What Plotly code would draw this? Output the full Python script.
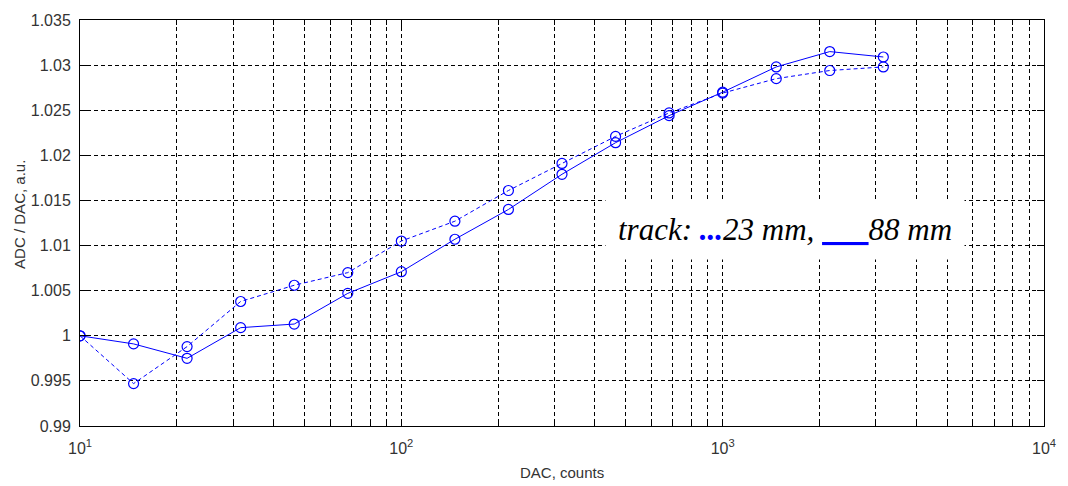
import plotly.graph_objects as go

dac_counts = [10, 14.68, 21.54, 31.62, 46.42, 68.13, 100, 146.8, 215.4, 316.2,
              464.2, 681.3, 1000, 1468, 2154, 3162]
ratio_88mm = [1.0000, 0.9991, 0.9975, 1.0009, 1.0013, 1.0047, 1.0071, 1.0107,
              1.0140, 1.0179, 1.0214, 1.0244, 1.0270, 1.0298, 1.0315, 1.0309]
ratio_23mm = [1.0000, 0.9947, 0.9988, 1.0038, 1.0056, 1.0070, 1.0105, 1.0127,
              1.0161, 1.0191, 1.0221, 1.0247, 1.0269, 1.0285, 1.0294, 1.0298]

x_tickvals = [10, 100, 1000, 10000]
x_ticktext = ["10<sup>1</sup>", "10<sup>2</sup>", "10<sup>3</sup>", "10<sup>4</sup>"]
y_tickvals = [0.99, 0.995, 1.0, 1.005, 1.01, 1.015, 1.02, 1.025, 1.03, 1.035]
y_ticktext = ["0.99", "0.995", "1", "1.005", "1.01", "1.015", "1.02", "1.025", "1.03", "1.035"]

BLUE = "#0000ff"
GRID_DASH = "4px,3px"

fig = go.Figure()
fig.add_trace(go.Scatter(
    x=dac_counts, y=ratio_23mm, mode="lines+markers",
    line=dict(color=BLUE, width=1, dash="4px,3px"),
    marker=dict(symbol="circle-open", size=10, color=BLUE, line=dict(width=1.2, color=BLUE)),
    showlegend=False))
fig.add_trace(go.Scatter(
    x=dac_counts, y=ratio_88mm, mode="lines+markers",
    line=dict(color=BLUE, width=1),
    marker=dict(symbol="circle-open", size=10, color=BLUE, line=dict(width=1.2, color=BLUE)),
    showlegend=False))

axis_font = dict(family="Liberation Sans, Arial, sans-serif", size=16, color="#333333")
title_font = dict(family="Liberation Sans, Arial, sans-serif", size=15, color="#333333")

fig.update_xaxes(
    type="log", range=[1, 4],
    tickvals=x_tickvals, ticktext=x_ticktext, tickfont=axis_font,
    showline=True, linecolor="black", linewidth=1, mirror="ticks",
    ticks="inside", ticklen=7, tickcolor="black",
    showgrid=True, gridcolor="black", gridwidth=1, griddash=GRID_DASH,
    minor=dict(dtick="D1", ticks="inside", ticklen=5, tickcolor="black",
               showgrid=True, gridcolor="black", gridwidth=1, griddash=GRID_DASH),
    zeroline=False, ticklabelstandoff=8,
)
fig.update_yaxes(
    range=[0.99, 1.035],
    tickvals=y_tickvals, ticktext=y_ticktext, tickfont=axis_font,
    showline=True, linecolor="black", linewidth=1, mirror="ticks",
    ticks="inside", ticklen=7, tickcolor="black",
    showgrid=True, gridcolor="black", gridwidth=1, griddash=GRID_DASH,
    zeroline=False, ticklabelstandoff=5,
)

legend_text = ("<i>track: <b><span style='color:#0000ff'>...</span></b>23 mm, "
               "<span style='color:#0000ff'><u>&#160;&#160;&#160;&#160;&#160;&#160;</u></span>88 mm</i>")

fig.update_layout(
    width=1068, height=486,
    margin=dict(l=80, r=19, t=16, b=60),
    plot_bgcolor="white", paper_bgcolor="white",
    annotations=[
        dict(text=legend_text, xref="paper", yref="paper", x=0.545, y=0.485,
             xanchor="left", yanchor="middle", showarrow=False,
             font=dict(family="Liberation Serif, Times New Roman, serif", size=31, color="black"),
             bgcolor="white", borderpad=12),
        dict(text="DAC, counts", xref="paper", yref="paper", x=0.5, y=0, yshift=-46,
             xanchor="center", yanchor="middle", showarrow=False, font=title_font),
        dict(text="ADC / DAC, a.u.", xref="paper", yref="paper", x=0, xshift=-60, y=0.52,
             xanchor="center", yanchor="middle", showarrow=False, textangle=-90, font=title_font),
    ],
)

fig.write_html("out.html")
